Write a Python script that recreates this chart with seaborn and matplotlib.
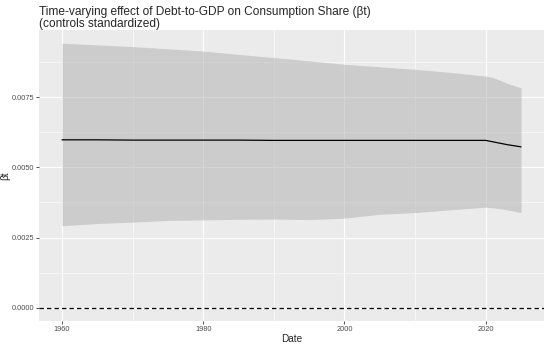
import numpy as np
import pandas as pd
import matplotlib
matplotlib.use('Agg')
import matplotlib.pyplot as plt
from matplotlib.ticker import MultipleLocator, FormatStrFormatter
import seaborn as sns

# values
years = [1960, 1965, 1970, 1975, 1980, 1985, 1990, 1995, 2000, 2005,
         2010, 2015, 2020, 2021, 2022, 2023, 2024, 2025]
beta = [0.00598, 0.00598, 0.00597, 0.00597, 0.00597, 0.00597, 0.00596, 0.00596, 0.00596, 0.00596,
        0.00596, 0.00596, 0.00596, 0.00591, 0.00586, 0.00581, 0.00577, 0.00573]
upper = [0.00942, 0.00936, 0.00930, 0.00922, 0.00914, 0.00902, 0.00891, 0.00879, 0.00867, 0.00858,
         0.00849, 0.00838, 0.00825, 0.00820, 0.00810, 0.00800, 0.00791, 0.00783]
lower = [0.00292, 0.00300, 0.00305, 0.00311, 0.00313, 0.00315, 0.00316, 0.00314, 0.00319, 0.00333,
         0.00339, 0.00349, 0.00358, 0.00356, 0.00353, 0.00349, 0.00344, 0.00339]

df = pd.DataFrame({'Date': years, 'beta': beta, 'lo': lower, 'hi': upper})

sns.set_theme(style='darkgrid', rc={'axes.facecolor': '#EBEBEB', 'grid.color': 'white'})
plt.rcParams['font.family'] = ['Liberation Sans', 'DejaVu Sans']

fig, ax = plt.subplots(figsize=(5.5, 3.44), dpi=100)
fig.subplots_adjust(left=39/550, right=544/550, top=1-30/344, bottom=1-321/344)

ax.fill_between(df['Date'], df['lo'], df['hi'], color='#B3B3B3', alpha=0.55, lw=0, zorder=2)
sns.lineplot(data=df, x='Date', y='beta', color='black', lw=0.9, ax=ax, zorder=3)
ax.axhline(0, color='black', ls=(0, (3.5, 2.5)), lw=0.9, zorder=3)

ax.set_xlim(1956.75, 2028.25)
ax.set_ylim(-0.00047, 0.00989)
ax.xaxis.set_major_locator(MultipleLocator(20))
ax.xaxis.set_minor_locator(MultipleLocator(10))
ax.yaxis.set_major_locator(MultipleLocator(0.0025))
ax.yaxis.set_minor_locator(MultipleLocator(0.00125))
ax.yaxis.set_major_formatter(FormatStrFormatter('%.4f'))
ax.grid(which='major', color='white', lw=0.8)
ax.grid(which='minor', color='white', lw=0.4)
for s in ax.spines.values():
    s.set_visible(False)
ax.tick_params(which='major', length=2, width=0.6, color='#333333',
               labelsize=5.3, labelcolor='#4D4D4D', pad=1.5, bottom=True, left=True)
ax.tick_params(which='minor', length=0)

ax.set_xlabel('Date', fontsize=7.2, labelpad=0.5)
ax.set_ylabel('βt', fontsize=7.2, labelpad=1)

fig.text(39/550, 1-6/344,
         'Time-varying effect of Debt-to-GDP on Consumption Share (βt)\n(controls standardized)',
         ha='left', va='top', fontsize=8.6, linespacing=1.0)

fig.savefig('out.png', dpi=100)
